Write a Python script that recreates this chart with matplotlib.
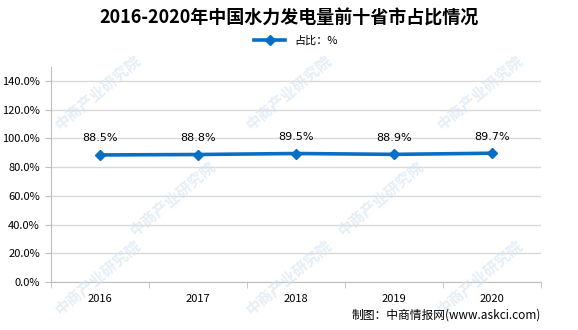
import numpy as np
import matplotlib.pyplot as plt
from matplotlib.ticker import FuncFormatter, FixedLocator

plt.rcParams['font.family'] = ['Noto Sans CJK SC', 'DejaVu Sans']

# data
years = ['2016', '2017', '2018', '2019', '2020']
share = [88.5, 88.8, 89.5, 88.9, 89.7]
yticks = [0, 20, 40, 60, 80, 100, 120, 140]

fig = plt.figure(figsize=(5.78, 3.30), dpi=100)
ax = fig.add_axes([51 / 578, 48 / 330, 490 / 578, 215 / 330])

x = np.arange(len(years))
blue = '#0a6fc2'

# faint watermarks
for wx, wy in [(0.17, 0.72), (0.50, 0.72), (0.83, 0.72),
               (0.30, 0.40), (0.66, 0.40), (0.17, 0.16), (0.50, 0.16), (0.83, 0.16)]:
    fig.text(wx, wy, '中商产业研究院', fontsize=11, color='#d4e4f1', alpha=0.6,
             rotation=40, ha='center', va='center', fontweight='bold', zorder=0)

ax.plot(x, share, color=blue, linewidth=2.6, marker='D', markersize=5.5,
        markerfacecolor=blue, markeredgecolor=blue, zorder=3, label='占比：%')
for xi, v in zip(x, share):
    ax.annotate(f'{v:.1f}%', (xi, v), xytext=(0, 12), textcoords='offset points',
                ha='center', va='center', fontsize=8, family=['DejaVu Sans'])

ax.set_xlim(-0.5, len(years) - 0.5)
ax.set_ylim(0, 140 * 215 / 201)
ax.yaxis.set_major_locator(FixedLocator(yticks))
ax.yaxis.set_major_formatter(FuncFormatter(lambda v, p: f'{v:.1f}%'))
ax.grid(axis='y', color='#d9d9d9', linewidth=1)
ax.set_axisbelow(True)

ax.set_xticks(x)
ax.set_xticklabels(years)
ax.set_xticks(np.arange(-0.5, len(years), 1), minor=True)
ax.tick_params(axis='x', which='major', length=0, pad=9, labelsize=8)
ax.tick_params(axis='x', which='minor', length=4, color='#bfbfbf', direction='out')
ax.tick_params(axis='y', length=4, color='#bfbfbf', labelsize=8, pad=4)

for s in ['top', 'right']:
    ax.spines[s].set_visible(False)
ax.spines['left'].set_color('#bfbfbf')
ax.spines['bottom'].set_color('#bfbfbf')
ax.patch.set_alpha(0)

fig.text(0.5, 1 - 18 / 330, '2016-2020年中国水力发电量前十省市占比情况',
         ha='center', va='center', fontsize=13, fontweight='bold')
ax.legend(loc='center', bbox_to_anchor=(0.5, (330 - 41 - 48) / 215), frameon=False,
          fontsize=8, handlelength=2.8, borderaxespad=0)
fig.text(541 / 578, 1 - 315 / 330, '制图：中商情报网(www.askci.com)',
         ha='right', va='center', fontsize=8.5)

fig.savefig('out.png', dpi=100)
